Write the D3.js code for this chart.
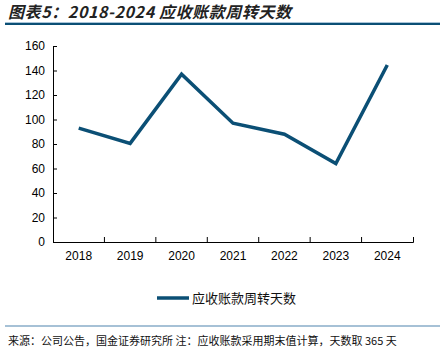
<!DOCTYPE html>
<html>
<head>
<meta charset="utf-8">
<script src="https://cdn.jsdelivr.net/npm/d3@7"></script>
<style>
    body { margin: 0; background: #fff; }
    svg { display: block; }
</style>
</head>
<body>
<div id="chart"></div>
<script>
const years = ["2018", "2019", "2020", "2021", "2022", "2023", "2024"];
const turnoverDays = [93, 80.5, 137, 97, 88, 64, 144.5];
const yTicks = [0, 20, 40, 60, 80, 100, 120, 140, 160];
const seriesName = "应收账款周转天数";
const titleText = "图表5：2018-2024 应收账款周转天数";
const sourceText = "来源：公司公告，国金证券研究所  注：应收账款采用期末值计算，天数取 365 天";

const W = 440, H = 359;
const margin = {top: 46, right: 27, bottom: 117, left: 53};
const lineColor = "#0b4f75";
const cjk = "'Noto Sans CJK SC', sans-serif";

const svg = d3.select("#chart").append("svg")
    .attr("width", W)
    .attr("height", H);

// title + rule
svg.append("text")
    .attr("x", 8)
    .attr("y", 18)
    .style("font-family", cjk)
    .style("font-size", "16px")
    .style("font-weight", "bold")
    .style("font-style", "italic")
    .style("letter-spacing", "0.6px")
    .attr("fill", "#222")
    .text(titleText);
svg.append("line")
    .attr("x1", 5).attr("x2", W)
    .attr("y1", 24).attr("y2", 24)
    .attr("stroke", "#0b4f75")
    .attr("stroke-width", 2);
svg.append("line")
    .attr("x1", 5).attr("x2", W)
    .attr("y1", 22.5).attr("y2", 22.5)
    .attr("stroke", "#a9c4d8")
    .attr("stroke-width", 1);

const x = d3.scaleBand()
    .domain(years)
    .range([margin.left, W - margin.right]);
const y = d3.scaleLinear()
    .domain([0, 160])
    .range([H - margin.bottom, margin.top]);

const xAxis = svg.append("g")
    .attr("transform", `translate(0, ${H - margin.bottom})`)
    .call(d3.axisBottom(x).tickSize(-5).tickSizeOuter(-5).tickPadding(9));
// tick marks sit on band boundaries, not centres
xAxis.selectAll(".tick line").remove();
xAxis.selectAll(".boundary")
    .data(years.slice(1))
    .join("line")
    .attr("x1", d => x(d)).attr("x2", d => x(d))
    .attr("y1", 0).attr("y2", -5)
    .attr("stroke", "#000");
xAxis.selectAll(".tick text").attr("dy", "0.71em");

const yAxis = svg.append("g")
    .attr("transform", `translate(${margin.left}, 0)`)
    .call(d3.axisLeft(y).tickValues(yTicks).tickSize(-4).tickSizeOuter(-4).tickPadding(8));

svg.selectAll(".domain").attr("stroke", "#000");
svg.selectAll(".tick text")
    .style("font-family", "'Liberation Sans', Arial, sans-serif")
    .style("font-size", "12px")
    .attr("fill", "#000");

const line = d3.line()
    .x((d, i) => x(years[i]) + x.bandwidth() / 2)
    .y(d => y(d));

svg.append("path")
    .datum(turnoverDays)
    .attr("d", line)
    .attr("fill", "none")
    .attr("stroke", lineColor)
    .attr("stroke-width", 3.5)
    .attr("stroke-linejoin", "miter");

// legend
const legend = svg.append("g").attr("transform", "translate(157, 298)");
legend.append("line")
    .attr("x1", 0).attr("x2", 32)
    .attr("y1", 0).attr("y2", 0)
    .attr("stroke", lineColor)
    .attr("stroke-width", 3.5);
legend.append("text")
    .attr("x", 35)
    .attr("y", 5)
    .style("font-family", cjk)
    .style("font-size", "13px")
    .attr("fill", "#111")
    .text(seriesName);

// footer
svg.append("line")
    .attr("x1", 5).attr("x2", W)
    .attr("y1", 326).attr("y2", 326)
    .attr("stroke", "#4f84ad")
    .attr("stroke-width", 1.2);
svg.append("text")
    .attr("x", 8)
    .attr("y", 345)
    .style("font-family", cjk)
    .style("font-size", "11px")
    .attr("fill", "#111")
    .text(sourceText);
</script>
</body>
</html>
